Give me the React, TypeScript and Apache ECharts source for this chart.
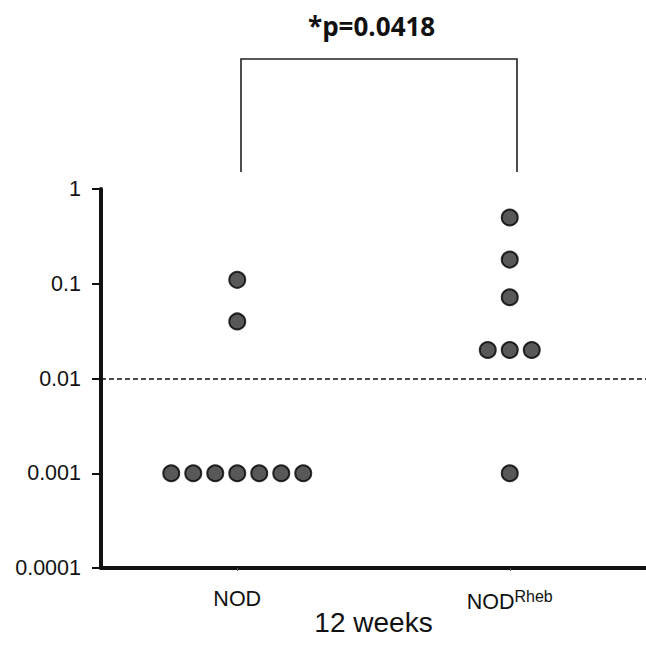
import React, { useEffect, useRef } from "react";
import * as echarts from "echarts";

const categories = ["NOD", "NODRheb"];
const nodValues = [0.11, 0.04, 0.001, 0.001, 0.001, 0.001, 0.001, 0.001, 0.001];
const rhebValues = [0.5, 0.18, 0.072, 0.02, 0.02, 0.02, 0.001];
const yTicks = [1, 0.1, 0.01, 0.001, 0.0001];
const yTickLabels = ["1", "0.1", "0.01", "0.001", "0.0001"];
const thresholdValue = 0.01;
const pValueText = "*p=0.0418";
const xAxisTitle = "12 weeks";

const SPACING = 22;

function buildPoints(catIndex: number, values: number[]) {
  const counts: Record<string, number> = {};
  values.forEach((v) => (counts[String(v)] = (counts[String(v)] || 0) + 1));
  const seen: Record<string, number> = {};
  return values.map((v) => {
    const k = String(v);
    const i = seen[k] || 0;
    seen[k] = i + 1;
    const n = counts[k];
    return {
      value: [catIndex, v],
      symbolOffset: [(i - (n - 1) / 2) * SPACING, 0],
    };
  });
}

export default function App() {
  const ref = useRef<HTMLDivElement>(null);
  useEffect(() => {
    if (!ref.current) return;
    const chart = echarts.init(ref.current, null, { renderer: "svg" });
    const markerStyle = {
      color: "#2e2e2e",
      borderColor: "#000",
      borderWidth: 2,
    };
    chart.setOption({
      animation: false,
      backgroundColor: "#ffffff",
      textStyle: { fontFamily: "Liberation Sans, Arial, sans-serif" },
      title: {
        text: pValueText,
        left: 303,
        top: 8,
        textStyle: {
          fontFamily: "Open Sans, sans-serif",
          fontWeight: "bold",
          fontSize: 26,
          color: "#111",
        },
      },
      grid: {
        left: 101,
        width: 545,
        top: 189,
        height: 379,
        containLabel: false,
        outerBoundsMode: "none",
      },
      xAxis: {
        type: "category",
        data: categories,
        boundaryGap: true,
        axisLine: { lineStyle: { color: "#111", width: 4 } },
        axisTick: { show: true, alignWithLabel: true, length: 3, lineStyle: { color: "#555", width: 1 } },
        axisLabel: {
          margin: 20,
          fontSize: 21.5,
          color: "#111",
          formatter: (v: string) => (v === "NODRheb" ? "NOD{sup|Rheb}" : v),
          rich: {
            sup: { fontSize: 16, color: "#111", verticalAlign: "top", padding: [0, 0, 12, 0] },
          },
        },
        name: xAxisTitle,
        nameLocation: "middle",
        nameGap: 40,
        nameMoveOverlap: false,
        nameTextStyle: { fontSize: 28, color: "#111" },
        splitLine: { show: false },
      },
      yAxis: {
        type: "log",
        logBase: 10,
        min: 0.0001,
        max: 1,
        axisLine: { show: true, lineStyle: { color: "#111", width: 4 } },
        axisTick: { show: true, length: 9, lineStyle: { color: "#111", width: 2 } },
        axisLabel: {
          margin: 20,
          fontSize: 21.5,
          color: "#111",
          formatter: (v: number) => {
            const idx = yTicks.findIndex((t) => Math.abs(Math.log10(t) - Math.log10(v)) < 1e-6);
            return idx >= 0 ? yTickLabels[idx] : "";
          },
        },
        splitLine: { show: false },
      },
      series: [
        {
          type: "scatter",
          name: categories[0],
          data: buildPoints(0, nodValues),
          symbol: "circle",
          symbolSize: 16,
          itemStyle: markerStyle,
          markLine: {
            silent: true,
            symbol: ["none", "none"],
            label: { show: false },
            lineStyle: { color: "#111", type: [5, 3], width: 1.5 },
            data: [{ yAxis: thresholdValue }],
          },
        },
        {
          type: "scatter",
          name: categories[1],
          data: buildPoints(1, rhebValues),
          symbol: "circle",
          symbolSize: 16,
          itemStyle: markerStyle,
        },
      ],
      graphic: [
        {
          type: "polyline",
          shape: { points: [[241, 172], [241, 59], [517, 59], [517, 172]] },
          style: { stroke: "#222", lineWidth: 1.6, fill: "none" },
        },
      ],
    });
    return () => chart.dispose();
  }, []);
  return (
    <div
      ref={ref}
      style={{ position: "fixed", left: 0, top: 0, width: 646, height: 647 }}
    />
  );
}
